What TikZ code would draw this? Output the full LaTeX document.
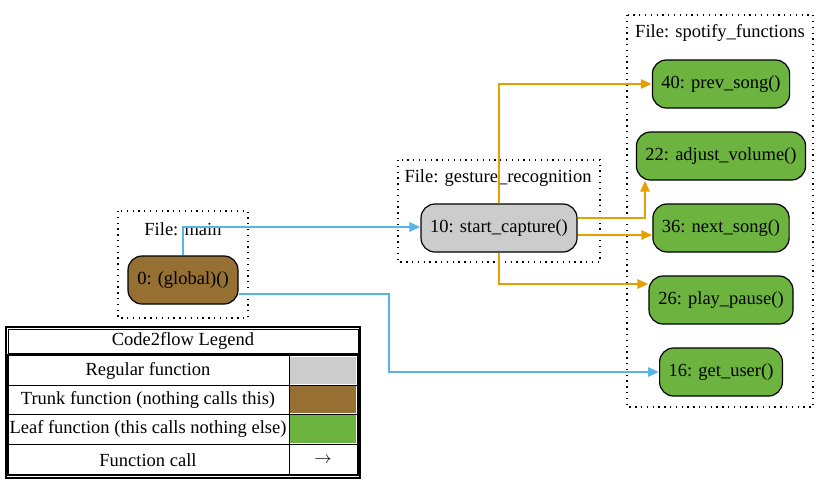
\documentclass[tikz,border=0pt]{standalone}
\usepackage{fontspec}
\setmainfont{Liberation Serif}
\usetikzlibrary{arrows.meta}
\definecolor{regular}{HTML}{CCCCCC}
\definecolor{trunk}{HTML}{966F33}
\definecolor{leaf}{HTML}{6DB33F}
\definecolor{callblue}{HTML}{56B4E9}
\definecolor{callorange}{HTML}{E69F00}
\tikzset{
	func/.style={draw, line width=1.2pt, rounded corners=14pt, minimum height=48pt, inner xsep=9pt, font=\fontsize{18.5}{21}\selectfont},
	filebox/.style={draw, line width=1.3pt, dash pattern=on 1.3pt off 4.5pt},
	filelabel/.style={font=\fontsize{18.5}{21}\selectfont},
	call/.style={line width=2.6pt, -{Triangle[length=11pt,width=9pt]}},
	legendtext/.style={font=\fontsize{18.5}{21}\selectfont}
}
\begin{document}
\begin{tikzpicture}[x=1pt, y=-1pt]
			\useasboundingbox (0,0) rectangle (832,483);
			%file clusters
			\draw[filebox] (118,211) rectangle (248,318);
			\node[filelabel] (lblmain) at (183,229){File: main};
			\draw[filebox] (398,160) rectangle (600,262);
			\node[filelabel] (lblgesture) at (498,178){File: gesture\_recognition};
			\draw[filebox] (627,15) rectangle (813,407);
			\node[filelabel] (lblspotify) at (720,33){File: spotify\_functions};
			
			%functions
			\node[func, fill=trunk, minimum width=110pt] (global) at (183,280){0: (global)()};
			\node[func, fill=regular, minimum width=156pt] (capture) at (499,228){10: start\_capture()};
			\node[func, fill=leaf, minimum width=136pt] (prev) at (721,84){40: prev\_song()};
			\node[func, fill=leaf, minimum width=168pt] (adjust) at (721,156){22: adjust\_volume()};
			\node[func, fill=leaf, minimum width=136pt] (next) at (721,228){36: next\_song()};
			\node[func, fill=leaf, minimum width=144pt] (play) at (721,300){26: play\_pause()};
			\node[func, fill=leaf, minimum width=122pt] (getuser) at (721,372){16: get\_user()};
			
			%calls
			\coordinate (bendA) at (389,330);
			\draw[call, callblue] (global.north) |- ([yshift=1pt]capture.west);
			\draw[call, callblue] ([yshift=-14pt]global.east) -| (bendA) |- (getuser.west);
			\draw[call, callorange] (capture.north) |- (prev.west);
			\draw[call, callorange] ([yshift=10pt]capture.east) -| ([xshift=-76pt]adjust.south);
			\draw[call, callorange] ([yshift=-7pt]capture.east) -- ([yshift=-7pt]next.west);
			\draw[call, callorange] (capture.south) |- ([yshift=16pt]play.west);
			
			%legend
			\draw[line width=2.5pt] (6,327) rectangle (360,478);
			\draw[line width=1pt] (8,329) rectangle (358,353);
			\node[legendtext] (legtitle) at (183,341){Code2flow Legend};
			\draw[line width=1.5pt] (8,355) rectangle (358,475);
			\foreach \y in {385, 414, 444}{
				\draw[line width=1pt] (8,\y)--(358,\y);
			}
			\draw[line width=1pt] (289,355)--(289,475);
			\fill[regular] (290,357) rectangle (356,384);
			\fill[trunk] (290,386) rectangle (356,413);
			\fill[leaf] (290,415) rectangle (356,443);
			\node[legendtext] (legregular) at (148,371){Regular function};
			\node[legendtext] (legtrunk) at (148,400){Trunk function (nothing calls this)};
			\node[legendtext] (legleaf) at (148,429){Leaf function (this calls nothing else)};
			\node[legendtext] (legcall) at (148,460){Function call};
			\node[legendtext] (legarrow) at (323,460){$\rightarrow$};
		\end{tikzpicture}
\end{document}
